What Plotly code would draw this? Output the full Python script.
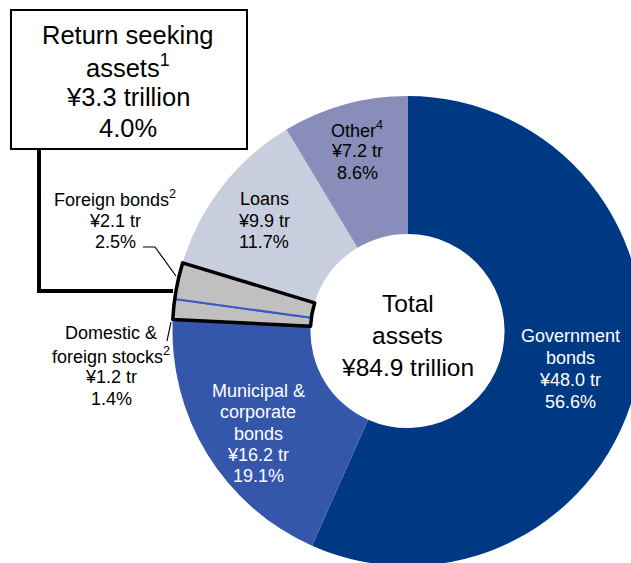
import plotly.graph_objects as go

# Asset allocation (share of total assets, %)
categories = ["Government bonds", "Municipal & corporate bonds",
              "Domestic & foreign stocks", "Foreign bonds", "Loans", "Other"]
shares = [56.6, 19.1, 1.4, 2.5, 11.7, 8.6]
amounts_tr = [48.0, 16.2, 1.2, 2.1, 9.9, 7.2]
colors = ["#003983", "#3456AB", "#C0C0C0", "#C0C0C0", "#C8CEDD", "#888EB9"]

# Return-seeking assets (stocks + foreign bonds) grouped for the outline
return_seeking = ["Domestic & foreign stocks", "Foreign bonds"]
total_tr = 84.9
return_seeking_tr = 3.3
return_seeking_pct = 4.0

W, H = 660, 580
FONT = "Arial, Liberation Sans, sans-serif"


def px(x):
    return x / W


def py(y):
    return 1 - y / H


# Pie geometry (pixels): centre and outer radius
cx, cy, r = 407.5, 331, 235
domain = dict(x=[px(cx - r), px(cx + r)], y=[py(cy + r), py(cy - r)])
hole = 0.413

fig = go.Figure()

# Main donut; the two return-seeking slices carry a thin blue divider
line_colors = ["#3A5CC2" if c in return_seeking else "rgba(0,0,0,0)" for c in categories]
line_widths = [2 if c in return_seeking else 0 for c in categories]
fig.add_trace(go.Pie(
    labels=categories, values=shares, sort=False, direction="clockwise",
    rotation=0, hole=hole, domain=domain, textinfo="none", hoverinfo="skip",
    marker=dict(colors=colors, line=dict(color=line_colors, width=line_widths)),
    showlegend=False,
))

# Overlay: same slices with the return-seeking pair merged, outlined in black
grp_labels, grp_values = [], []
for c, v in zip(categories, shares):
    if c in return_seeking:
        if "Return seeking" not in grp_labels:
            grp_labels.append("Return seeking")
            grp_values.append(0.0)
        grp_values[grp_labels.index("Return seeking")] += v
    else:
        grp_labels.append(c)
        grp_values.append(v)
fig.add_trace(go.Pie(
    labels=grp_labels, values=grp_values, sort=False, direction="clockwise",
    rotation=0, hole=hole, domain=domain, textinfo="none", hoverinfo="skip",
    marker=dict(colors=["rgba(0,0,0,0)"] * len(grp_labels),
                line=dict(color="black",
                          width=[3.5 if l == "Return seeking" else 0 for l in grp_labels])),
    showlegend=False,
))


def label(x, y, lines, size=18, color="black", spacing=21.75):
    """Centered text block, one annotation per line."""
    n = len(lines)
    for i, line in enumerate(lines):
        yy = y + (i - (n - 1) / 2) * spacing
        fig.add_annotation(x=px(x), y=py(yy), xref="paper", yref="paper", text=line,
                           showarrow=False, xanchor="center", yanchor="middle",
                           align="center",
                           font=dict(family=FONT, size=size, color=color))


def pct(i):
    return f"{shares[i]:.1f}%"


def tr(i):
    return f"¥{amounts_tr[i]:.1f} tr"


label(407.5, 335, ["Total", "assets", f"¥{total_tr:.1f} trillion"], size=24.5, spacing=32)
label(570, 369, ["Government", "bonds", tr(0), pct(0)], color="white")
label(258, 433.5, ["Municipal &", "corporate", "bonds", tr(1), pct(1)], color="white",
      spacing=21.25)
label(264, 220.5, ["Loans", tr(4), pct(4)])
label(357, 151, ["Other<sup>4</sup>", tr(5), pct(5)])
label(115, 220.5, ["Foreign bonds<sup>2</sup>", tr(3), pct(3)])
label(111, 366, ["Domestic &", "foreign stocks<sup>2</sup>", tr(2), pct(2)])

# Call-out box for return-seeking assets
fig.add_shape(type="rect", xref="paper", yref="paper",
              x0=px(11), x1=px(247), y0=py(149), y1=py(10),
              line=dict(color="black", width=2), fillcolor="white")
label(128, 81.5, ["Return seeking", "assets<sup>1</sup>",
                  f"¥{return_seeking_tr:.1f} trillion", f"{return_seeking_pct:.1f}%"],
      size=25.5, spacing=31)


def polyline(points, width):
    d = "M " + " L ".join(f"{px(x)},{py(y)}" for x, y in points)
    fig.add_shape(type="path", xref="paper", yref="paper", path=d,
                  line=dict(color="black", width=width))


polyline([(39, 149), (39, 291), (173, 291)], 4)
polyline([(143, 247), (155, 247), (176, 276)], 1.2)
polyline([(167, 341), (171, 322)], 1.2)

fig.update_layout(width=W, height=H, margin=dict(l=0, r=0, t=0, b=0),
                  paper_bgcolor="white", plot_bgcolor="white",
                  font=dict(family=FONT, size=18))

fig.write_html("out.html")
